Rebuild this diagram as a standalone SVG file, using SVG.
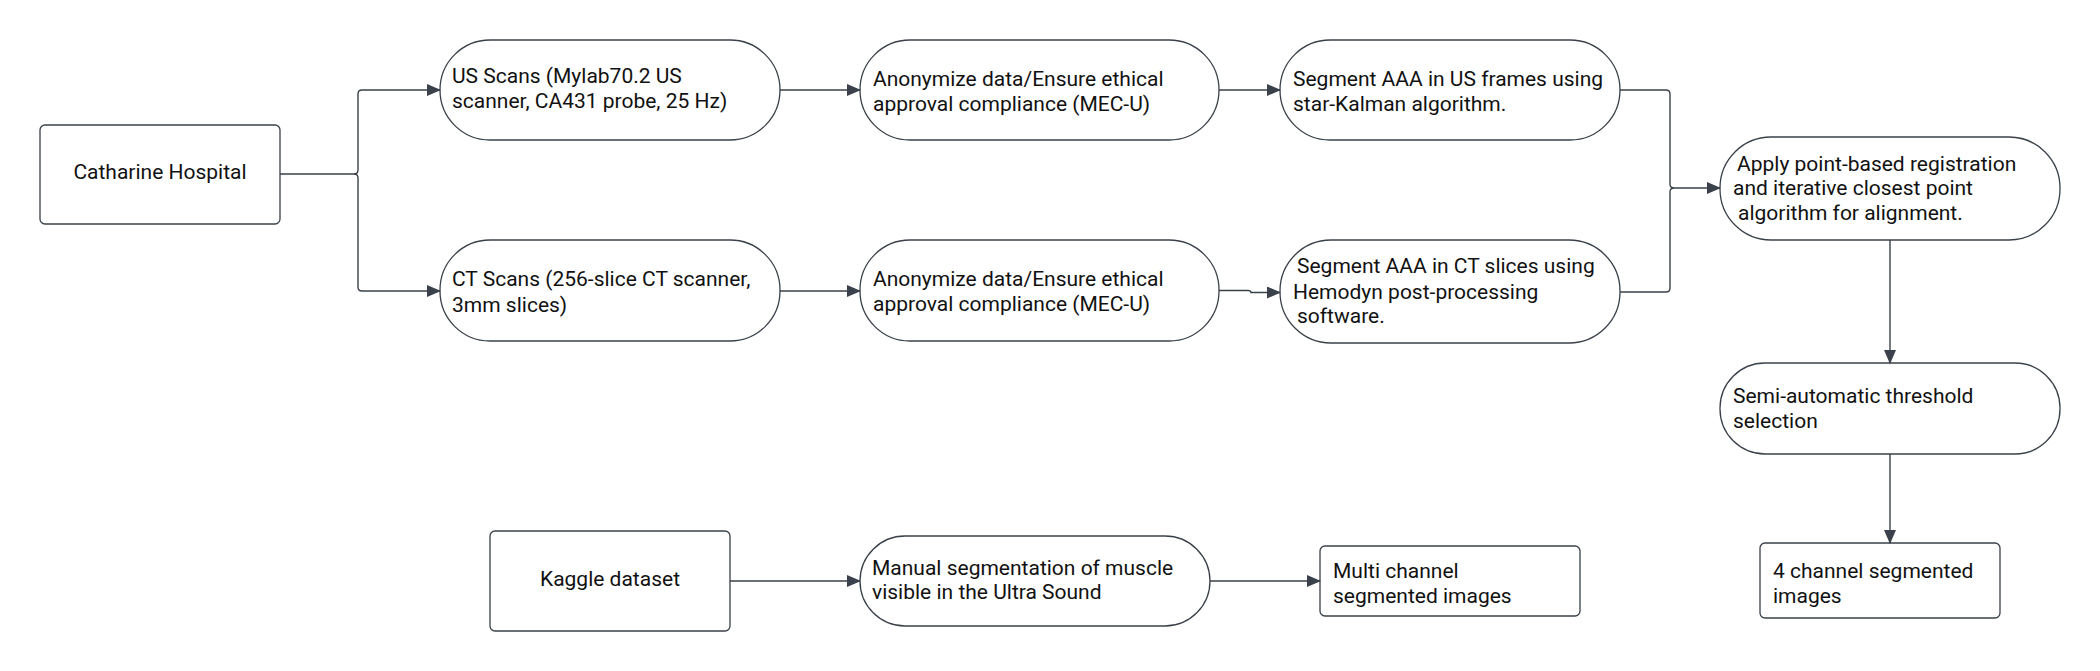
<svg xmlns="http://www.w3.org/2000/svg" width="2100" height="671" viewBox="0 0 2100 671">
<defs>
<marker id="ah" markerWidth="14" markerHeight="12" refX="13" refY="6" orient="auto" markerUnits="userSpaceOnUse">
<path d="M0,0 L14,6 L0,12 Z" fill="#3a414a"/>
</marker>
<style>
.n{fill:#fff;stroke:#3a414a;stroke-width:1.3}
.t{font-family:Roboto,"Liberation Sans",sans-serif;font-size:21px;fill:#111}
.c{fill:none;stroke:#3a414a;stroke-width:1.4;marker-end:url(#ah)}
.c2{fill:none;stroke:#3a414a;stroke-width:1.4}
</style>
</defs>
<rect width="2100" height="671" fill="#fff"/>
<g id="catharine"><rect class="n" x="40" y="125" width="240" height="99" rx="5"/><text class="t" x="160" y="179" text-anchor="middle">Catharine Hospital</text></g>
<g id="us-scans"><rect class="n" x="440" y="40" width="340" height="100" rx="50"/><text class="t" x="452"><tspan x="452" y="83">US Scans (Mylab70.2 US</tspan><tspan x="452" y="108">scanner, CA431 probe, 25 Hz)</tspan></text></g>
<g id="ct-scans"><rect class="n" x="440" y="240" width="340" height="101" rx="50"/><text class="t"><tspan x="452" y="286">CT Scans (256-slice CT scanner,</tspan><tspan x="452" y="312">3mm slices)</tspan></text></g>
<g id="anon-us"><rect class="n" x="860" y="40" width="359" height="100" rx="50"/><text class="t"><tspan x="873" y="86">Anonymize data/Ensure ethical</tspan><tspan x="873" y="111">approval compliance (MEC-U)</tspan></text></g>
<g id="anon-ct"><rect class="n" x="860" y="240" width="359" height="101" rx="50"/><text class="t"><tspan x="873" y="286">Anonymize data/Ensure ethical</tspan><tspan x="873" y="311">approval compliance (MEC-U)</tspan></text></g>
<g id="seg-us"><rect class="n" x="1280" y="40" width="340" height="100" rx="50"/><text class="t"><tspan x="1293" y="86">Segment AAA in US frames using</tspan><tspan x="1293" y="111">star-Kalman algorithm.</tspan></text></g>
<g id="seg-ct"><rect class="n" x="1280" y="240" width="340" height="103" rx="51"/><text class="t"><tspan x="1297" y="273">Segment AAA in CT slices using</tspan><tspan x="1293" y="299">Hemodyn post-processing</tspan><tspan x="1297" y="323">software.</tspan></text></g>
<g id="apply"><rect class="n" x="1720" y="137" width="340" height="103" rx="51"/><text class="t"><tspan x="1737" y="171">Apply point-based registration</tspan><tspan x="1733" y="195">and iterative closest point</tspan><tspan x="1738" y="220">algorithm for alignment.</tspan></text></g>
<g id="semi"><rect class="n" x="1720" y="363" width="340" height="91" rx="45"/><text class="t"><tspan x="1733" y="403">Semi-automatic threshold</tspan><tspan x="1733" y="428">selection</tspan></text></g>
<g id="four-channel"><rect class="n" x="1760" y="543" width="240" height="75" rx="5"/><text class="t"><tspan x="1773" y="578">4 channel segmented</tspan><tspan x="1773" y="603">images</tspan></text></g>
<g id="kaggle"><rect class="n" x="490" y="531" width="240" height="100" rx="5"/><text class="t" x="610" y="586" text-anchor="middle">Kaggle dataset</text></g>
<g id="manual"><rect class="n" x="860" y="536" width="350" height="90" rx="45"/><text class="t"><tspan x="872" y="575">Manual segmentation of muscle</tspan><tspan x="872" y="599">visible in the Ultra Sound</tspan></text></g>
<g id="multi-channel"><rect class="n" x="1320" y="546" width="260" height="70" rx="5"/><text class="t"><tspan x="1333" y="578">Multi channel</tspan><tspan x="1333" y="603">segmented images</tspan></text></g>
<g id="connectors">
<path class="c2" d="M280,174 L354,174 Q358,174 358,170 L358,94 Q358,90 362,90"/>
<path class="c" d="M362,90 L440,90"/>
<path class="c2" d="M354,174 Q358,174 358,178 L358,287 Q358,291 362,291"/>
<path class="c" d="M362,291 L440,291"/>
<path class="c" d="M780,90 L860,90"/>
<path class="c" d="M780,291 L860,291"/>
<path class="c" d="M1219,90 L1280,90"/>
<path class="c" d="M1219,290.5 L1248,290.5 Q1251,290.5 1251,292.5 L1280,292.5"/>
<path class="c2" d="M1620,90 L1666,90 Q1670,90 1670,94 L1670,184 Q1670,188 1674,188"/>
<path class="c2" d="M1620,292 L1666,292 Q1670,292 1670,288 L1670,192 Q1670,188 1674,188"/>
<path class="c" d="M1674,188 L1720,188"/>
<path class="c" d="M1890,240 L1890,363"/>
<path class="c" d="M1890,454 L1890,543"/>
<path class="c" d="M730,581 L860,581"/>
<path class="c" d="M1210,581 L1320,581"/>
</g>
</svg>
